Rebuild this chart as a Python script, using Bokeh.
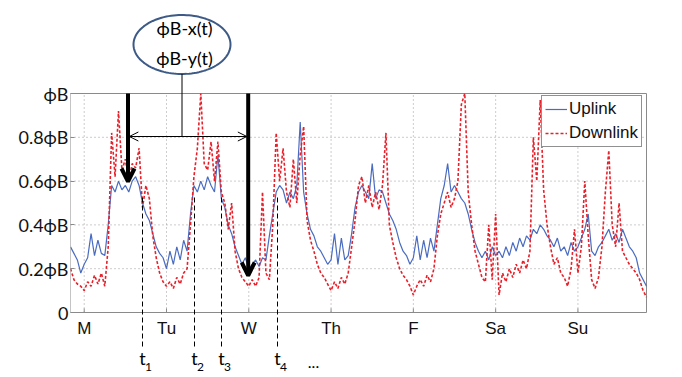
import numpy as np
from bokeh.plotting import figure
from bokeh.models import (Range1d, FixedTicker, Arrow, OpenHead, Label,
                          PolyAnnotation, Legend, LegendItem)
from bokeh.core.properties import value
from bokeh.embed import file_html
from bokeh.resources import INLINE

# ---- data (hourly samples over one week) ----
hours = list(range(169))
uplink = [
    .30, .27, .24, .18, .22, .25, .36, .26, .33, .27, .26, .40, .58, .55, .60, .56, .58, .55, .60, .62, .58, .50, .45, .42,
    .36, .30, .27, .25, .20, .28, .22, .30, .24, .33, .28, .45, .58, .55, .60, .56, .62, .58, .55, .72, .52, .48, .40, .36,
    .30, .26, .22, .25, .20, .22, .24, .21, .25, .24, .35, .45, .55, .58, .56, .50, .55, .52, .58, .87, .55, .45, .38, .35,
    .30, .28, .25, .22, .24, .36, .22, .34, .24, .26, .36, .48, .55, .58, .55, .52, .68, .52, .56, .55, .50, .45, .42, .38,
    .32, .28, .26, .22, .25, .35, .24, .33, .25, .34, .28, .40, .52, .58, .68, .55, .58, .55, .52, .50, .45, .38, .32, .28,
    .25, .28, .24, .30, .26, .28, .25, .30, .26, .32, .28, .34, .30, .35, .33, .38, .36, .40, .38, .35, .33, .30, .34, .28,
    .30, .26, .32, .28, .30, .34, .38, .45, .28, .26, .30, .32, .35, .38, .33, .36, .32, .38, .34, .30, .28, .25, .18, .15, .12,
]
downlink = [
    .20, .15, .13, .12, .10, .14, .12, .17, .13, .18, .12, .30, .82, .62, .92, .65, .70, .60, .68, .66, .75, .48, .58, .52,
    .35, .25, .18, .14, .12, .14, .11, .16, .13, .18, .20, .40, .62, .75, 1.0, .68, .65, .78, .60, .78, .55, .50, .38, .50,
    .28, .20, .16, .14, .12, .15, .12, .16, .55, .18, .15, .40, .82, .60, .75, .55, .48, .70, .50, .72, .85, .42, .33, .28,
    .22, .18, .16, .13, .10, .14, .11, .16, .13, .18, .30, .42, .58, .62, .50, .58, .48, .55, .47, .58, .82, .40, .32, .25,
    .20, .17, .15, .12, .08, .12, .15, .12, .17, .14, .20, .35, .45, .50, .55, .48, .52, .60, .95, 1.0, .55, .40, .28, .22,
    .16, .14, .40, .15, .45, .08, .18, .14, .20, .16, .22, .18, .24, .20, .28, .80, .60, .97, .56, .40, .30, .22, .25, .18,
    .16, .12, .20, .38, .18, .30, .60, .35, .15, .11, .16, .30, .55, .74, .40, .30, .50, .28, .25, .22, .20, .18, .15, .10, .07,
]
day_ticks = [4, 28, 52, 76, 100, 124, 148]
day_labels = ["M", "Tu", "W", "Th", "F", "Sa", "Su"]
y_ticks = [0, 0.2, 0.4, 0.6, 0.8, 1.0]
y_labels = ["0", "0.2ϕB", "0.4ϕB", "0.6ϕB", "0.8ϕB", "ϕB"]
t_labels = ["1", "2", "3", "4"]

# ---- geometry: the frame covers the canvas right of the y-axis panel ----
W, H = 682, 377
L = 70                      # y-axis panel width
PX_L, PX_R = 70, 646        # plot box in pixels
PX_T, PX_B = 93, 312
X0, X1 = 0, 168             # one week in hours
Y0, Y1 = 0.0, 1.0
sx = (PX_R - PX_L) / (X1 - X0)      # px per hour
sy = (PX_B - PX_T) / (Y1 - Y0)      # px per unit


def px2x(px):
    return X0 + (px - PX_L) / sx


def py2y(py):
    return Y0 + (PX_B - py) / sy


p = figure(width=W, height=H, output_backend="svg", toolbar_location=None,
           x_range=Range1d(px2x(L), px2x(W)), y_range=Range1d(py2y(H), py2y(0)),
           x_axis_location=None, y_axis_location="left",
           min_border_left=L, min_border_right=0, min_border_top=0, min_border_bottom=0)
p.background_fill_color = "white"
p.border_fill_color = "white"
p.outline_line_color = None
p.grid.visible = False

# y axis (real Bokeh axis)
p.yaxis.ticker = FixedTicker(ticks=y_ticks)
p.yaxis.major_label_overrides = dict(zip(y_ticks, y_labels))
p.yaxis.axis_line_color = None
p.yaxis.major_tick_in = 4
p.yaxis.major_tick_out = 0
p.yaxis.major_tick_line_color = "#8a8a8a"
p.yaxis.minor_tick_line_color = None
p.yaxis.major_label_text_font = "Lato"
p.yaxis.major_label_text_font_size = "18px"
p.yaxis.major_label_standoff = 2
p.yaxis.major_label_text_color = "#111111"

# grid lines (dotted) limited to the plot box
p.segment(x0=day_ticks, y0=[Y0] * len(day_ticks), x1=day_ticks, y1=[Y1] * len(day_ticks),
          line_color="#9a9a9a", line_dash="1 3", line_width=1)
p.segment(x0=[X0] * len(y_ticks), y0=y_ticks, x1=[X1] * len(y_ticks), y1=y_ticks,
          line_color="#9a9a9a", line_dash="1 3", line_width=1)
# x ticks (inward) and labels
p.segment(x0=day_ticks, y0=[Y0] * len(day_ticks), x1=day_ticks,
          y1=[Y0 + 4 / sy] * len(day_ticks), line_color="#8a8a8a", line_width=1)
p.text(x=day_ticks, y=[Y0 - 6 / sy] * len(day_ticks), text=day_labels,
       text_font=value("Liberation Sans"), text_font_size="17px", text_color="#111111",
       text_align="center", text_baseline="top")

# plot box
p.quad(left=X0, right=X1, bottom=Y0, top=Y1, fill_color=None, line_color="#8a8a8a", line_width=1)

r_up = p.line(hours, uplink, line_color="#4a6cc0", line_width=1.2)
r_dn = p.line(hours, downlink, line_color="#e8202a", line_width=1.6, line_dash="3 2")

legend = Legend(items=[LegendItem(label="Uplink", renderers=[r_up]),
                       LegendItem(label="Downlink", renderers=[r_dn])],
                location=(541 - L, H - 147))
legend.border_line_color = "#222222"
legend.border_line_width = 1
legend.label_text_font = "Liberation Sans"
legend.label_text_font_size = "17px"
legend.label_text_color = "#111111"
legend.glyph_width = 22
legend.glyph_height = 20
legend.label_height = 20
legend.label_standoff = 2
legend.padding = 3
legend.spacing = 4
legend.margin = 0
legend.background_fill_alpha = 1
p.add_layout(legend)

# ---- annotations ----
cx, cy = px2x(181.5), py2y(44)
a, b = 48.5 / sx, 29.5 / sy
th = np.linspace(0, 2 * np.pi, 120)
p.add_layout(PolyAnnotation(xs=list(cx + a * np.cos(th)), ys=list(cy + b * np.sin(th)),
                            fill_color="white", fill_alpha=1.0,
                            line_color="#3d5a86", line_alpha=1.0, line_width=2))
p.add_layout(Label(x=px2x(184), y=py2y(27), text="ϕB-x(t)", text_font="Lato",
                   text_font_size="18px", text_color="black",
                   text_align="center", text_baseline="middle"))
p.add_layout(Label(x=px2x(184), y=py2y(57), text="ϕB-y(t)", text_font="Lato",
                   text_font_size="18px", text_color="black",
                   text_align="center", text_baseline="middle"))

xa, xb = px2x(127.5), px2x(247.7)
ymid = py2y(136)
p.add_layout(Arrow(x_start=cx, y_start=py2y(73.5), x_end=cx, y_end=ymid, end=None,
                   line_width=1, line_color="black"))
p.add_layout(Arrow(x_start=xa + 0.4, y_start=ymid, x_end=xb - 0.4, y_end=ymid,
                   start=OpenHead(size=9, line_width=1), end=OpenHead(size=9, line_width=1),
                   line_width=1, line_color="black"))

p.add_layout(Arrow(x_start=xa, y_start=Y1, x_end=xa, y_end=py2y(181),
                   end=OpenHead(size=13, line_width=4), line_width=4, line_color="black"))
p.add_layout(Arrow(x_start=xb, y_start=Y1, x_end=xb, y_end=py2y(275),
                   end=OpenHead(size=13, line_width=4), line_width=4, line_color="black"))

t_px = [142, 194, 221, 277]
for tx, sub in zip(t_px, t_labels):
    p.add_layout(Arrow(x_start=px2x(tx), y_start=py2y(197), x_end=px2x(tx), y_end=py2y(346),
                       end=None, line_width=1, line_color="black", line_dash="5 3"))
    p.add_layout(Label(x=px2x(tx), y=py2y(357), text="t", text_font="Lato",
                       text_font_size="18px", text_color="black",
                       text_align="center", text_baseline="middle"))
    p.add_layout(Label(x=px2x(tx + 6), y=py2y(366), text=sub, text_font="Lato",
                       text_font_size="12px", text_color="black",
                       text_align="center", text_baseline="middle"))
p.add_layout(Label(x=px2x(313), y=py2y(362), text="...", text_font="Lato",
                   text_font_size="16px", text_color="black",
                   text_align="center", text_baseline="middle"))

open("out.html", "w").write(file_html(p, INLINE))
